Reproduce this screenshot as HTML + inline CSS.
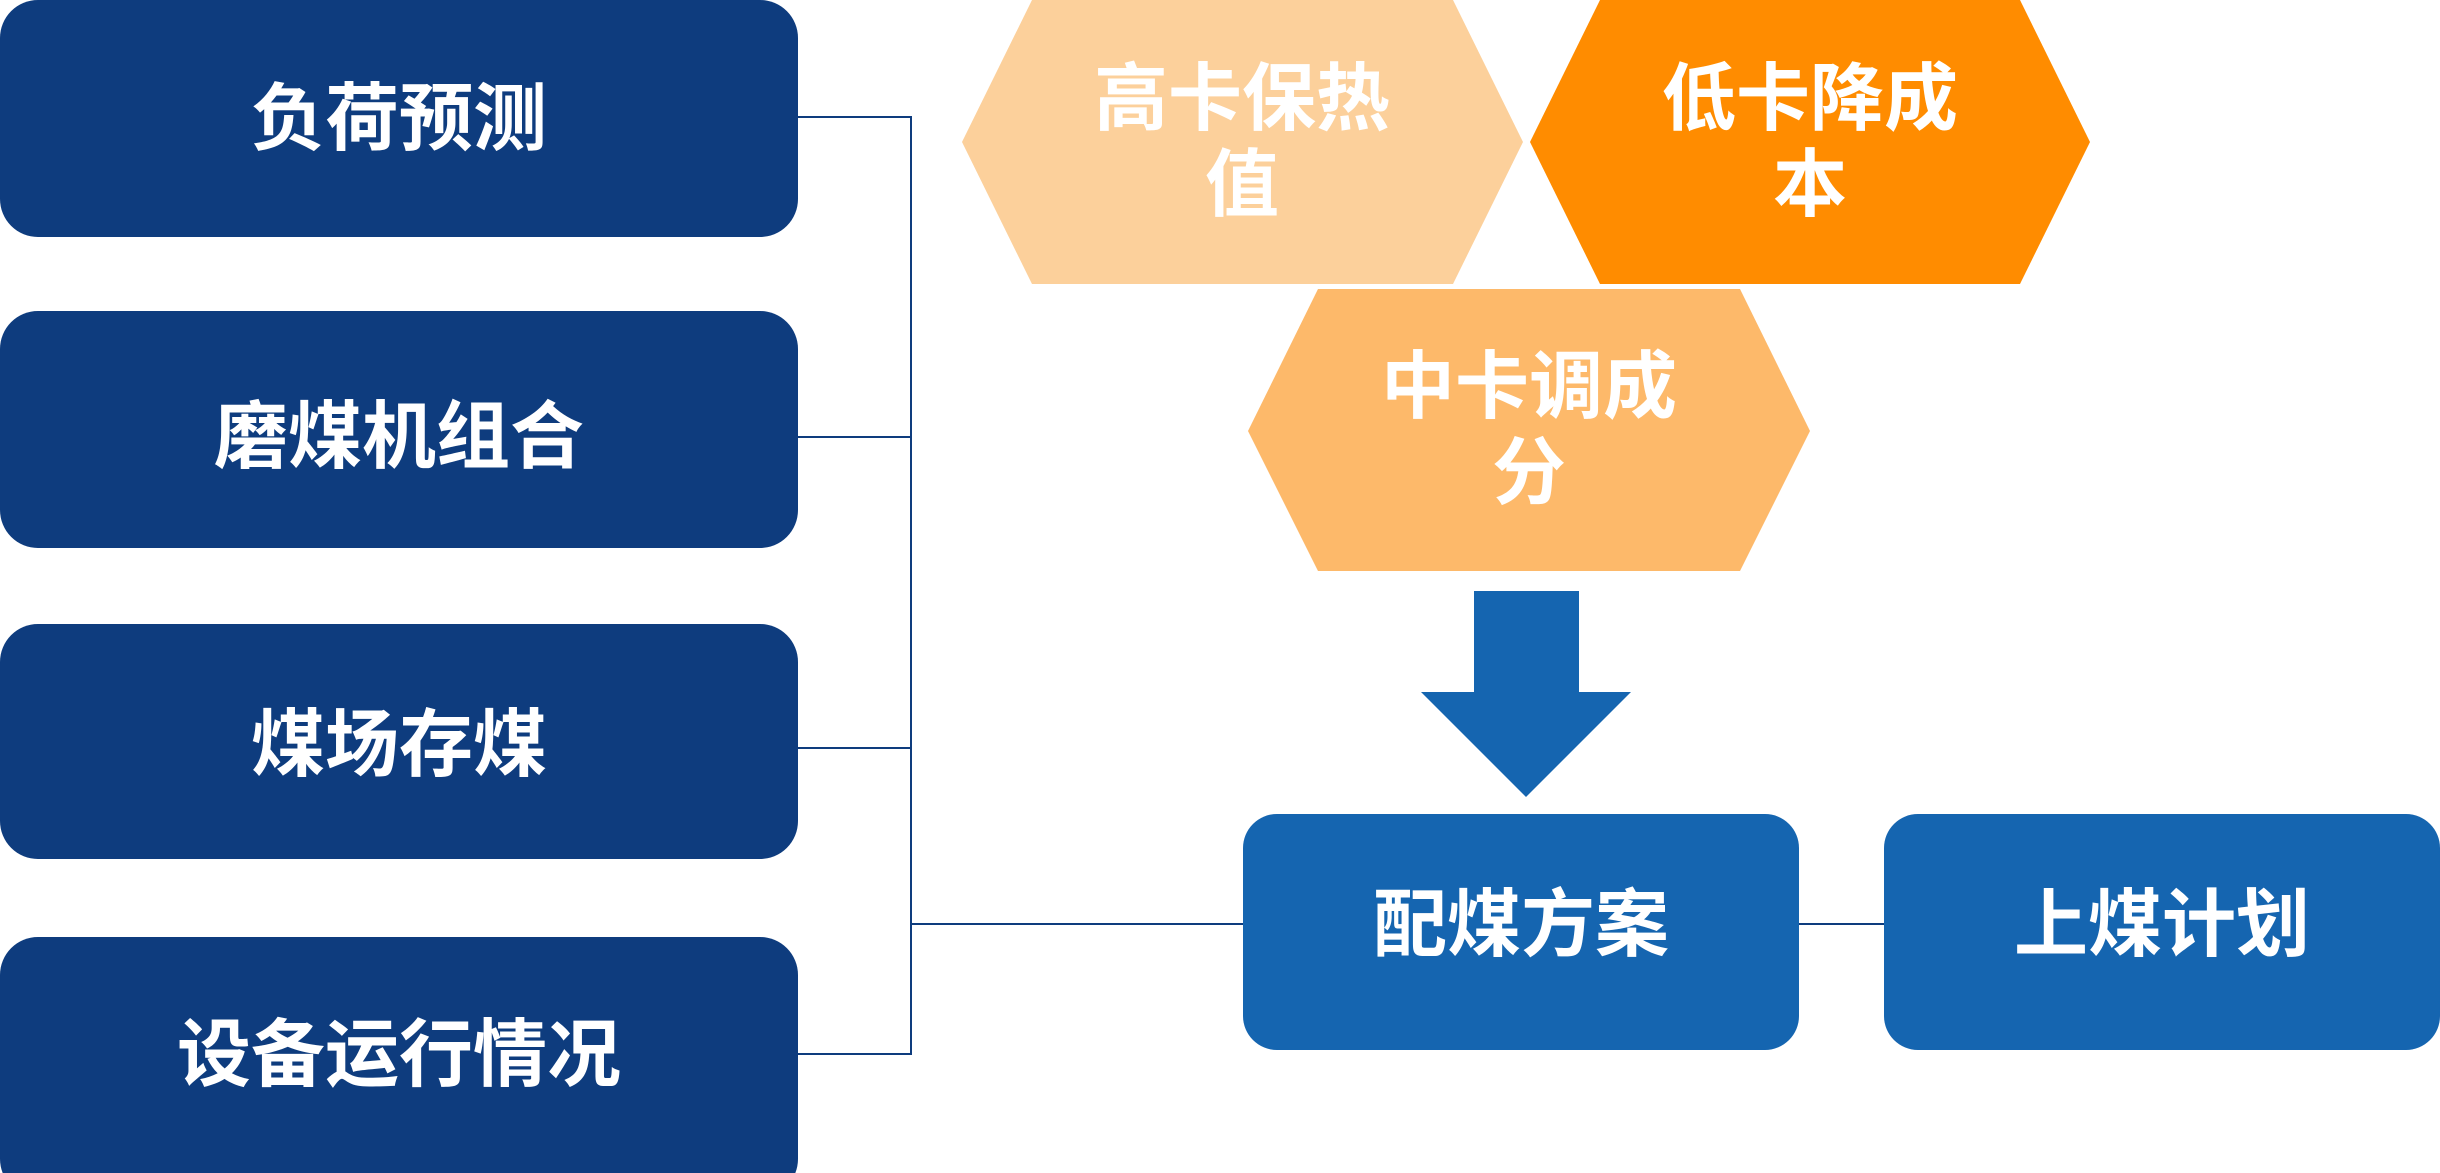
<!DOCTYPE html>
<html><head><meta charset="utf-8"><style>
html,body{margin:0;padding:0;background:#fff;}
svg{display:block;}
text{font-family:"Liberation Sans","Noto Sans CJK SC",sans-serif;font-weight:bold;fill:#fff;text-anchor:middle;}
</style></head><body>
<svg width="2440" height="1173" viewBox="0 0 2440 1173" xmlns="http://www.w3.org/2000/svg">
<g fill="#0E3C7E">
<rect x="0" y="0" width="798" height="237" rx="38"/>
<rect x="0" y="311" width="798" height="237" rx="38"/>
<rect x="0" y="624" width="798" height="235" rx="38"/>
<rect x="0" y="937" width="798" height="260" rx="38"/>
</g>
<g stroke="#0E3C7E" stroke-width="2" fill="none">
<polyline points="798,117 911,117 911,1054 798,1054"/>
<line x1="798" y1="437" x2="911" y2="437"/>
<line x1="798" y1="748" x2="911" y2="748"/>
<line x1="911" y1="924" x2="1243" y2="924"/>
<line x1="1799" y1="924" x2="1884" y2="924"/>
</g>
<g font-size="74">
<text x="399" y="144">负荷预测</text>
<text x="399" y="462">磨煤机组合</text>
<text x="399" y="770">煤场存煤</text>
<text x="399" y="1080">设备运行情况</text>
</g>
<polygon points="1032,0 1453,0 1523,142 1453,284 1032,284 962,142" fill="#FCD09B"/>
<polygon points="1600,0 2020,0 2090,142 2020,284 1600,284 1530,142" fill="#FF8C00"/>
<polygon points="1318,289 1740,289 1810,431 1740,571 1318,571 1248,431" fill="#FDB96A"/>
<g font-size="74">
<text x="1242" y="124">高卡保热</text>
<text x="1242" y="210">值</text>
<text x="1810" y="124">低卡降成</text>
<text x="1810" y="210">本</text>
<text x="1529" y="412">中卡调成</text>
<text x="1529" y="498">分</text>
</g>
<polygon points="1474,591 1579,591 1579,692 1631,692 1526,797 1421,692 1474,692" fill="#1565B0"/>
<rect x="1243" y="814" width="556" height="236" rx="34" fill="#1565B0"/>
<rect x="1884" y="814" width="556" height="236" rx="34" fill="#1565B0"/>
<g font-size="74">
<text x="1521" y="950">配煤方案</text>
<text x="2162" y="950">上煤计划</text>
</g>
</svg>
</body></html>
